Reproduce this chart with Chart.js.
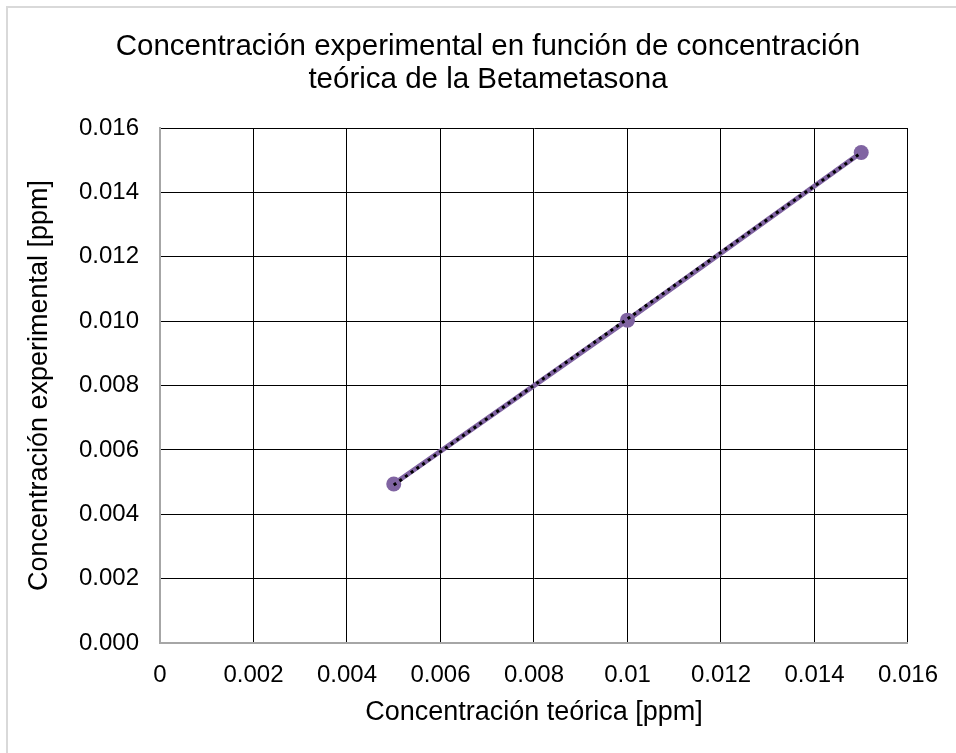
<!DOCTYPE html>
<html>
<head>
<meta charset="utf-8">
<script src="https://cdn.jsdelivr.net/npm/chart.js@4.4.1/dist/chart.umd.min.js"></script>
<style>
html,body{margin:0;padding:0;background:#fff;}
#wrap{width:956px;height:753px;position:relative;}
</style>
</head>
<body>
<div id="wrap"><canvas id="c" width="956" height="753"></canvas></div>
<script>
const titleLines = ["Concentración experimental en función de concentración", "teórica de la Betametasona"];
const xAxisTitle = "Concentración teórica [ppm]";
const yAxisTitle = "Concentración experimental [ppm]";
const xTeorica = [0.005, 0.010, 0.015];
const yExperimental = [0.00494, 0.01003, 0.01524];
const trendX = [0.005, 0.015];
const trendY = [0.00491, 0.01523];
const xTickLabels = ["0", "0.002", "0.004", "0.006", "0.008", "0.01", "0.012", "0.014", "0.016"];
const yTickLabels = ["0.000", "0.002", "0.004", "0.006", "0.008", "0.010", "0.012", "0.014", "0.016"];

const FONT = "'Liberation Sans', Arial, sans-serif";

const textPlugin = {
  id: 'texts',
  beforeDraw(chart) {
    const ctx = chart.ctx;
    ctx.save();
    ctx.strokeStyle = '#d9d9d9';
    ctx.lineWidth = 2;
    ctx.beginPath();
    ctx.moveTo(7, 753); ctx.lineTo(7, 7); ctx.lineTo(956, 7);
    ctx.stroke();
    ctx.restore();
  },
  afterDraw(chart) {
    const ctx = chart.ctx;
    const a = chart.chartArea;
    ctx.save();
    ctx.fillStyle = '#000';
    ctx.textAlign = 'center';
    ctx.textBaseline = 'middle';
    ctx.font = "29.5px " + FONT;
    ctx.fillText(titleLines[0], 488, 47);
    ctx.fillText(titleLines[1], 488, 80);
    ctx.font = "27px " + FONT;
    ctx.fillText(xAxisTitle, (a.left + a.right) / 2, 713);
    ctx.translate(40, (a.top + a.bottom) / 2);
    ctx.rotate(-Math.PI / 2);
    ctx.fillText(yAxisTitle, 0, 0);
    ctx.restore();
  }
};

const points = xTeorica.map((x, i) => ({x: x, y: yExperimental[i]}));
const trend = trendX.map((x, i) => ({x: x, y: trendY[i]}));

new Chart(document.getElementById('c'), {
  type: 'scatter',
  data: {
    datasets: [
      {
        label: 'Lineal',
        data: trend,
        showLine: true,
        borderColor: '#000',
        borderWidth: 3,
        borderDash: [3, 4],
        pointRadius: 0,
        order: 0
      },
      {
        label: 'Serie',
        data: points,
        showLine: true,
        borderColor: '#8064A2',
        backgroundColor: '#8064A2',
        borderWidth: 5,
        pointRadius: 7.5,
        pointBorderWidth: 0,
        order: 1
      }
    ]
  },
  options: {
    responsive: false,
    animation: false,
    layout: {padding: {top: 128, right: 48, left: 0, bottom: 0}},
    plugins: {legend: {display: false}, tooltip: {enabled: false}},
    scales: {
      x: {
        type: 'linear', min: 0, max: 0.016,
        ticks: {
          stepSize: 0.002, color: '#000', padding: 18,
          font: {family: FONT, size: 24},
          callback: (v) => { const i = Math.round(v / 0.002); return xTickLabels[i]; }
        },
        grid: {color: '#000', lineWidth: 1, drawTicks: false},
        border: {color: '#a6a6a6', width: 2},
        afterFit: (s) => { s.height = 753 - 643; }
      },
      y: {
        type: 'linear', min: 0, max: 0.016,
        ticks: {
          stepSize: 0.002, color: '#000', padding: 21,
          font: {family: FONT, size: 24},
          callback: (v) => { const i = Math.round(v / 0.002); return yTickLabels[i]; }
        },
        grid: {color: '#000', lineWidth: 1, drawTicks: false},
        border: {color: '#a6a6a6', width: 2},
        afterFit: (s) => { s.width = 160; }
      }
    }
  },
  plugins: [textPlugin]
});
</script>
</body>
</html>
